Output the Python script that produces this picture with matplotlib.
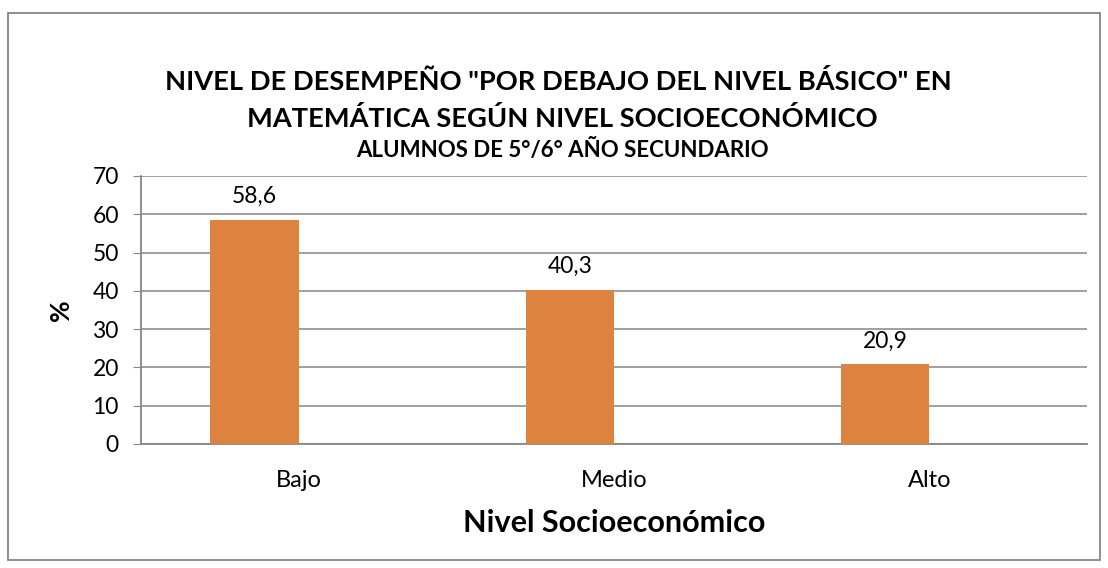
import matplotlib.pyplot as plt
from matplotlib.patches import Rectangle

# datos
categorias = ["Bajo", "Medio", "Alto"]
porcentajes = [58.6, 40.3, 20.9]
etiquetas = ["58,6", "40,3", "20,9"]
yticks = [0, 10, 20, 30, 40, 50, 60, 70]

plt.rcParams['font.family'] = ['Lato', 'DejaVu Sans']

fig = plt.figure(figsize=(11.08, 5.68), dpi=100)
ax = fig.add_axes([141 / 1108, 1 - 444 / 568, 946 / 1108, 268 / 568])

# barras a la izquierda del centro de cada categoria (como en Excel con 2 series)
ancho = 0.28
x = list(range(len(categorias)))
ax.bar(x, porcentajes, width=-ancho, align='edge', color='#DC843F', zorder=3)
for xi, v, lab in zip(x, porcentajes, etiquetas):
    ax.annotate(lab, (xi - ancho / 2, v), xytext=(0, 9), textcoords='offset points',
                ha='center', va='bottom', fontsize=16.5)

ax.set_xlim(-0.5, 2.5)
ax.set_ylim(0, 70)
ax.set_yticks(yticks)
ax.set_xticks(x)
ax.set_xticklabels(categorias, fontsize=17)
ax.tick_params(axis='y', labelsize=16.5, length=6, color='#868686', pad=10)
ax.tick_params(axis='x', length=0, pad=19)
ax.grid(axis='y', color='#868686', linewidth=1.1, zorder=0)
for s in ['top', 'right']:
    ax.spines[s].set_visible(False)
ax.spines['left'].set_color('#868686')
ax.spines['bottom'].set_color('#868686')
ax.spines['left'].set_linewidth(1.3)
ax.spines['bottom'].set_linewidth(1.3)

ax.set_ylabel('%', fontsize=19, fontweight='bold', labelpad=14)
ax.set_xlabel('Nivel Socioeconómico', fontsize=22, fontweight='bold', labelpad=13)

fig.text(558 / 1108, 1 - 82 / 568,
         'NIVEL DE DESEMPEÑO "POR DEBAJO DEL NIVEL BÁSICO" EN',
         ha='center', va='center', fontsize=19.6, fontweight='bold')
fig.text(562 / 1108, 1 - 118 / 568,
         'MATEMÁTICA SEGÚN NIVEL SOCIOECONÓMICO',
         ha='center', va='center', fontsize=19.6, fontweight='bold')
fig.text(562 / 1108, 1 - 150 / 568,
         'ALUMNOS DE 5°/6° AÑO SECUNDARIO',
         ha='center', va='center', fontsize=16, fontweight='bold')

fig.patches.append(Rectangle((8 / 1108, 8 / 568), 1092 / 1108, 547 / 568,
                             transform=fig.transFigure, fill=False,
                             edgecolor='#868686', linewidth=1.3))

fig.savefig('out.png', dpi=100)
